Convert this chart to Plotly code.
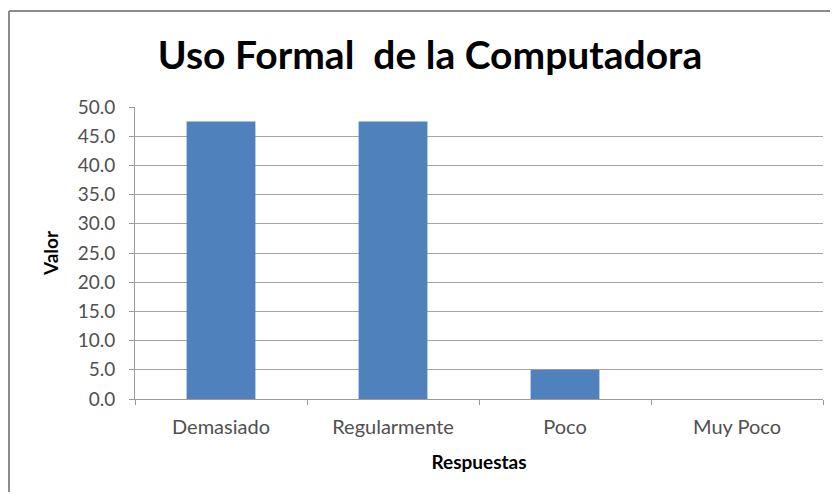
import plotly.graph_objects as go

categorias = ["Demasiado", "Regularmente", "Poco", "Muy Poco"]
valores = [47.5, 47.5, 5.0, 0.0]
y_ticks = [0, 5, 10, 15, 20, 25, 30, 35, 40, 45, 50]
y_tick_labels = ["0.0", "5.0", "10.0", "15.0", "20.0", "25.0", "30.0", "35.0", "40.0", "45.0", "50.0"]

FONT = "Lato"
OFF = 8  # page body margin
L, R, T = 127, 7, 99
W, H = 822, 484
pw = W - L - R
ph = 292
B = H - T - ph

fig = go.Figure(go.Bar(
    x=categorias, y=valores,
    marker=dict(color="#4F81BD", line=dict(width=0)),
    width=0.4,
))

fig.update_layout(
    width=W, height=H,
    margin=dict(l=L, r=R, t=T, b=B),
    paper_bgcolor="white", plot_bgcolor="white",
    showlegend=False,
    title=dict(text="Uso Formal \u00a0de la Computadora", x=(430 - OFF) / W, xanchor="center",
               y=1 - (55 - OFF) / H, yanchor="middle",
               font=dict(family=FONT, size=39, color="black", weight="bold")),
    font=dict(family=FONT, color="#505050"),
)

fig.update_xaxes(
    showline=True, linecolor="#9a9a9a", linewidth=1,
    ticks="outside", tickson="boundaries", ticklen=5, tickcolor="#9a9a9a",
    tickfont=dict(size=20, color="#505050", family=FONT),
    ticklabelstandoff=10,
    title=dict(text="Respuestas", font=dict(size=19, color="black", family=FONT, weight="bold"), standoff=18),
    showgrid=False,
)
fig.update_yaxes(
    range=[0, 50], tickvals=y_ticks, ticktext=y_tick_labels,
    showline=True, linecolor="#9a9a9a", linewidth=1,
    ticks="outside", ticklen=5, tickcolor="#9a9a9a",
    tickfont=dict(size=19, color="#505050", family=FONT),
    ticklabelstandoff=10,
    showgrid=True, gridcolor="#a6a6a6", gridwidth=1,
    zeroline=False,
    title=dict(text="Valor", font=dict(size=19, color="black", family=FONT, weight="bold"), standoff=14),
)

# outer chart frame (left and top edges visible)
x_left = (9 - OFF - L) / pw
y_top = 1 + (T - (11 - OFF)) / ph
fig.add_shape(type="line", xref="paper", yref="paper",
              x0=x_left, x1=x_left, y0=-2, y1=y_top,
              line=dict(color="#8c8c8c", width=2), layer="below")
fig.add_shape(type="line", xref="paper", yref="paper",
              x0=x_left, x1=2, y0=y_top, y1=y_top,
              line=dict(color="#8c8c8c", width=2), layer="below")

fig.write_html("out.html")
